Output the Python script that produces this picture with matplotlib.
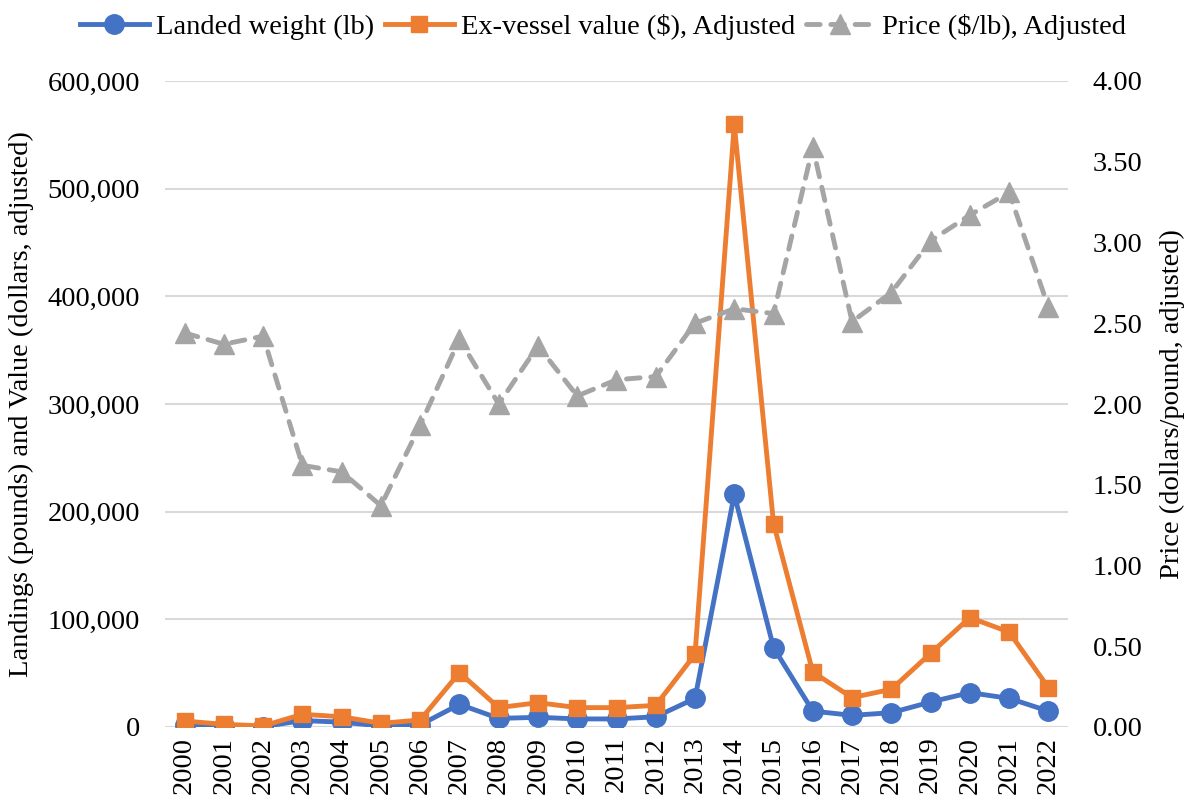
import matplotlib
matplotlib.use("Agg")
import matplotlib.pyplot as plt
from matplotlib.ticker import FuncFormatter, MultipleLocator

years = [str(y) for y in range(2000, 2023)]
landed_weight = [2000, 500, 300, 6000, 4500, 1000, 2000, 21000, 8000, 9000, 7500, 7500,
                 9500, 26500, 216000, 73700, 14800, 10800, 13300, 23200, 31900, 26600, 14800]
exvessel_value = [5500, 2500, 1000, 11800, 9500, 3400, 6500, 50500, 18000, 22600, 18000, 18000,
                  20100, 67500, 559600, 189000, 51000, 27300, 35000, 68400, 101600, 88200, 36600]
price = [2.44, 2.37, 2.42, 1.62, 1.58, 1.37, 1.87, 2.40, 2.00, 2.36, 2.05, 2.15,
         2.17, 2.50, 2.59, 2.56, 3.59, 2.51, 2.69, 3.01, 3.17, 3.31, 2.60]

plt.rcParams['font.family'] = ['Liberation Serif', 'DejaVu Serif']
FS = 20.5

fig = plt.figure(figsize=(11.87, 8.06), dpi=100)
ax = fig.add_axes([165/1187, 1-727/806, (1068-165)/1187, (727-81)/806])
ax2 = ax.twinx()

x = list(range(len(years)))
blue = '#4472C4'
orange = '#ED7D31'
gray = '#A5A5A5'

l1, = ax.plot(x, landed_weight, color=blue, lw=3.5, marker='o', ms=14,
              label='Landed weight (lb)', zorder=4)
l2, = ax.plot(x, exvessel_value, color=orange, lw=3.5, marker='s', ms=12,
              label='Ex-vessel value ($), Adjusted', zorder=5)
l3, = ax2.plot(x, price, color=gray, lw=3.5, marker='^', ms=14, ls=(0, (2.8, 2.2)),
               dash_capstyle='round', label='Price ($/lb), Adjusted', zorder=3)

ax.set_ylim(0, 600000)
ax2.set_ylim(0, 4.0)
ax.set_xlim(-0.5, len(years) - 0.5)
ax.yaxis.set_major_locator(MultipleLocator(100000))
ax2.yaxis.set_major_locator(MultipleLocator(0.5))
ax.yaxis.set_major_formatter(FuncFormatter(lambda v, p: f'{int(v):,}'))
ax2.yaxis.set_major_formatter(FuncFormatter(lambda v, p: f'{v:.2f}'))

ax.set_xticks(x)
ax.set_xticklabels(years, rotation=90, fontsize=FS)
ax.grid(axis='y', color='#D9D9D9', lw=1.5, zorder=0)
ax.set_axisbelow(True)
for a in (ax, ax2):
    for s in a.spines.values():
        s.set_visible(False)
    a.tick_params(length=0, labelsize=FS)
ax.tick_params(axis='y', pad=18)
ax2.tick_params(axis='y', pad=18)
ax.tick_params(axis='x', pad=7)

ax.set_ylabel('Landings (pounds) and Value (dollars, adjusted)', fontsize=FS, labelpad=10)
ax2.set_ylabel('Price (dollars/pound, adjusted)', fontsize=FS, labelpad=12)

fig.legend(handles=[l1, l2, l3], loc='upper center', bbox_to_anchor=(0.508, 1.0),
           ncol=3, frameon=False, fontsize=FS, handlelength=2.4, columnspacing=0.4,
           handletextpad=0.25, borderaxespad=0.1)

fig.savefig('out.png', dpi=100)
